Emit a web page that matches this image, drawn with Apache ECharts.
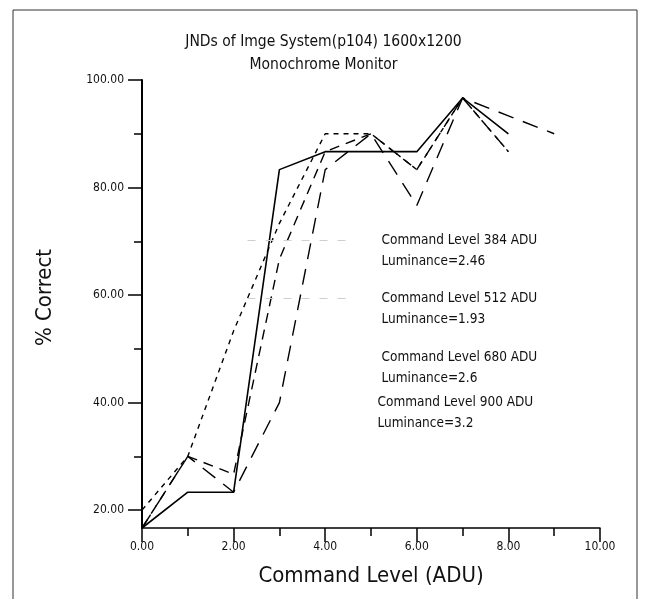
<!DOCTYPE html>
<html>
<head>
<meta charset="utf-8">
<script src="https://cdn.jsdelivr.net/npm/echarts@6/dist/echarts.min.js"></script>
<style>
  html, body { margin: 0; padding: 0; background: #fff; }
  #chart { width: 647px; height: 599px; }
</style>
</head>
<body>
<div id="chart"></div>
<script>
// command level (ADU) on x, % correct on y
const levels384 = [0, 1, 2, 3, 4, 5, 6, 7, 8]
const correct384 = [16.67, 23.33, 23.33, 83.33, 86.67, 86.67, 86.67, 96.67, 90]
const levels512 = [0, 1, 2, 3, 4, 5, 6, 7, 8]
const correct512 = [20, 30, 53.33, 73.33, 90, 90, 83.33, 96.67, 86.67]
const levels680 = [0, 1, 2, 3, 4, 5, 6, 7, 8]
const correct680 = [16.67, 30, 26.67, 66.67, 86.67, 90, 83.33, 96.67, 86.67]
const levels900 = [0, 1, 2, 3, 4, 5, 6, 7, 8, 9]
const correct900 = [16.67, 30, 23.33, 40, 83.33, 90, 76.67, 96.67, 93.33, 90]

const seriesNames = ['Command Level 384 ADU', 'Command Level 512 ADU', 'Command Level 680 ADU', 'Command Level 900 ADU']
const luminance = ['Luminance=2.46', 'Luminance=1.93', 'Luminance=2.6', 'Luminance=3.2']

// y ticks: labelled ones and the short ones between them
const yMajorTicks = [20, 40, 60, 80, 100]
const yMinorTicks = [30, 50, 70, 90]

const font = '"DejaVu Sans Condensed", "Liberation Sans", sans-serif'

const pairs = (xs, ys) => xs.map((x, i) => [x, ys[i]])

const seriesData = [
  pairs(levels384, correct384),
  pairs(levels512, correct512),
  pairs(levels680, correct680),
  pairs(levels900, correct900)
]
const dashes = ['solid', [5, 5], [10, 7], [16, 10]]
const widths = [1.6, 1.4, 1.4, 1.4]

// one legend per item so each label sits where it does in the picture
const legendPos = [[242, 204], [242, 262], [242, 321], [238, 366]]
const legends = seriesNames.map((name, i) => ({
  data: [name],
  left: legendPos[i][0],
  top: legendPos[i][1],
  itemWidth: 100,
  itemHeight: 14,
  itemStyle: { color: 'transparent', borderWidth: 0 },
  lineStyle: { color: '#cfcfcf', width: 1, type: [8, 10], opacity: i < 2 ? 1 : 0 },
  // empty first row so the sample line lines up with the first text row
  formatter: n => '\n' + n + '\n' + luminance[i],
  selectedMode: false,
  textStyle: { fontFamily: font, fontSize: 13.5, color: '#111', lineHeight: 21, padding: [0, 0, 0, 29] }
}))

const yBase = {
  type: 'value',
  min: 16.67,
  max: 100,
  splitLine: { show: false }
}

const chart = echarts.init(document.getElementById('chart'))
chart.setOption({
  animation: false,
  title: {
    text: 'JNDs of Imge System(p104) 1600x1200\nMonochrome Monitor',
    left: 'center',
    top: 25,
    textStyle: { fontFamily: font, fontSize: 15.5, fontWeight: 'normal', color: '#111', lineHeight: 23 }
  },
  legend: legends,
  grid: { left: 142, right: 47, top: 80, bottom: 71 },
  xAxis: {
    type: 'value',
    min: 0,
    max: 10,
    interval: 2,
    name: 'Command Level (ADU)',
    nameLocation: 'middle',
    nameGap: 37,
    nameTextStyle: { fontFamily: font, fontSize: 22, color: '#111' },
    axisLine: { onZero: false, lineStyle: { color: '#000', width: 1.5 } },
    axisTick: { length: 14, lineStyle: { color: '#000', width: 1.5 } },
    minorTick: { show: true, splitNumber: 2, length: 8, lineStyle: { color: '#000', width: 1.5 } },
    splitLine: { show: false },
    axisLabel: { formatter: v => v.toFixed(2), fontFamily: font, fontSize: 12, color: '#111', margin: 13 }
  },
  yAxis: [{
    ...yBase,
    name: '% Correct',
    nameLocation: 'middle',
    nameGap: 86,
    nameRotate: 90,
    nameTextStyle: { fontFamily: font, fontSize: 22, color: '#111', padding: [0, 0, 0, 13] },
    axisLine: { lineStyle: { color: '#000', width: 2 } },
    axisTick: { length: 14, customValues: yMajorTicks, lineStyle: { color: '#000', width: 1.5 } },
    axisLabel: {
      customValues: yMajorTicks,
      formatter: v => v.toFixed(2),
      fontFamily: font, fontSize: 12, color: '#111', margin: 18
    }
  }, {
    ...yBase,
    position: 'left',
    axisLine: { show: false },
    axisTick: { length: 8, customValues: yMinorTicks, lineStyle: { color: '#000', width: 1.5 } },
    axisLabel: { show: false }
  }],
  graphic: [{
    type: 'rect',
    shape: { x: 13, y: 10, width: 624, height: 620 },
    style: { fill: 'none', stroke: '#333', lineWidth: 1 },
    silent: true
  }],
  series: seriesNames.map((name, i) => ({
    name,
    type: 'line',
    data: seriesData[i],
    symbol: 'none',
    itemStyle: { color: '#000' },
    lineStyle: { color: '#000', width: widths[i], type: dashes[i] }
  }))
})
</script>
</body>
</html>
